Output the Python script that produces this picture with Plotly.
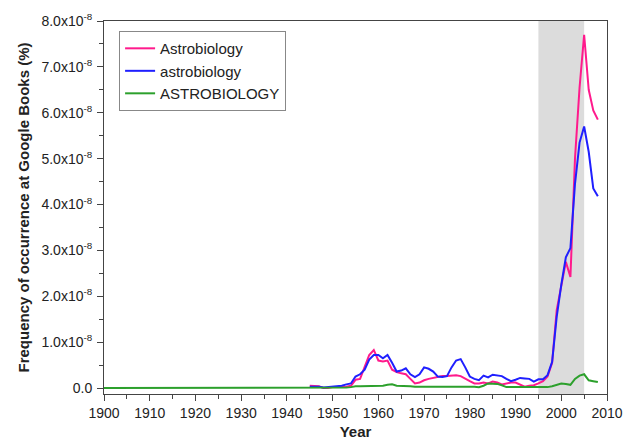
import plotly.graph_objects as go

# ---- data (values in units of 1e-8 %) ----
years_all = list(range(1900, 2009))
years_ab = list(range(1945, 2009))

astrobiology_cap = [
    0.05, 0.05, 0.04, 0.00, 0.00, 0.02, 0.02, 0.03, 0.03, 0.05,  # 1945-1954
    0.18, 0.20, 0.45, 0.72, 0.83, 0.60, 0.58, 0.60, 0.40, 0.35,  # 1955-1964
    0.32, 0.30, 0.20, 0.10, 0.12, 0.17, 0.20, 0.22, 0.25, 0.26,  # 1965-1974
    0.26, 0.27, 0.28, 0.26, 0.20, 0.15, 0.10, 0.10, 0.12, 0.10,  # 1975-1984
    0.14, 0.12, 0.08, 0.10, 0.12, 0.12, 0.08, 0.03, 0.05, 0.06,  # 1985-1994
    0.10, 0.15, 0.25, 0.55, 1.70, 2.20, 2.75, 2.42, 5.00, 6.55,  # 1995-2004
    7.70, 6.50, 6.05, 5.85                                       # 2005-2008
]

astrobiology_low = [
    0.03, 0.03, 0.03, 0.01, 0.02, 0.03, 0.03, 0.05, 0.08, 0.10,  # 1945-1954
    0.25, 0.30, 0.40, 0.62, 0.72, 0.72, 0.65, 0.72, 0.55, 0.36,  # 1955-1964
    0.38, 0.43, 0.30, 0.24, 0.30, 0.45, 0.42, 0.36, 0.25, 0.24,  # 1965-1974
    0.26, 0.45, 0.60, 0.63, 0.45, 0.25, 0.20, 0.17, 0.27, 0.23,  # 1975-1984
    0.29, 0.27, 0.26, 0.20, 0.15, 0.18, 0.22, 0.21, 0.20, 0.14,  # 1985-1994
    0.19, 0.19, 0.28, 0.57, 1.55, 2.25, 2.85, 3.05, 4.45, 5.35,  # 1995-2004
    5.70, 5.15, 4.35, 4.18                                       # 2005-2008
]

astrobiology_upper = [
    0.00, 0.00, 0.00, 0.00, 0.00, 0.00, 0.00, 0.00, 0.00, 0.00,  # 1900-1909
    0.00, 0.00, 0.00, 0.00, 0.00, 0.00, 0.00, 0.00, 0.00, 0.00,  # 1910-1919
    0.00, 0.00, 0.00, 0.00, 0.00, 0.00, 0.00, 0.00, 0.00, 0.00,  # 1920-1929
    0.00, 0.00, 0.00, 0.00, 0.00, 0.00, 0.00, 0.00, 0.00, 0.00,  # 1930-1939
    0.00, 0.00, 0.00, 0.00, 0.00, 0.00, 0.00, 0.00, 0.00, 0.00,  # 1940-1949
    0.00, 0.00, 0.00, 0.01, 0.02, 0.04, 0.04, 0.04, 0.04, 0.04,  # 1950-1959
    0.04, 0.05, 0.07, 0.08, 0.05, 0.05, 0.04, 0.04, 0.03, 0.03,  # 1960-1969
    0.04, 0.04, 0.03, 0.03, 0.03, 0.03, 0.03, 0.04, 0.04, 0.03,  # 1970-1979
    0.03, 0.03, 0.02, 0.05, 0.10, 0.10, 0.09, 0.06, 0.02, 0.02,  # 1980-1989
    0.02, 0.02, 0.02, 0.02, 0.02, 0.02, 0.02, 0.02, 0.04, 0.07,  # 1990-1999
    0.10, 0.09, 0.07, 0.20, 0.27, 0.30, 0.17, 0.15, 0.13          # 2000-2008
]

shade_start, shade_end = 1995, 2005

y_tick_vals = [0, 1, 2, 3, 4, 5, 6, 7, 8]
y_tick_text = ["0.0"] + [f"{v}.0x10<sup>-8</sup>" for v in y_tick_vals[1:]]
x_tick_vals = list(range(1900, 2011, 10))

# ---- figure ----
fig = go.Figure()
fig.add_trace(go.Scatter(x=years_ab, y=astrobiology_cap, mode="lines",
                         name="Astrobiology", line=dict(color="#ff1a8c", width=2)))
fig.add_trace(go.Scatter(x=years_ab, y=astrobiology_low, mode="lines",
                         name="astrobiology", line=dict(color="#1f1fff", width=2)))
fig.add_trace(go.Scatter(x=years_all, y=astrobiology_upper, mode="lines",
                         name="ASTROBIOLOGY", line=dict(color="#2ca02c", width=2)))

fig.add_vrect(x0=shade_start, x1=shade_end, fillcolor="#dcdcdc", opacity=1,
              layer="below", line_width=0)

axis_color = "#444444"
fig.update_layout(
    width=623, height=444,
    margin=dict(l=104, r=16, t=21, b=50),
    paper_bgcolor="white", plot_bgcolor="white",
    font=dict(family="Liberation Sans, Arial, sans-serif", size=14, color="#222222"),
    showlegend=True,
    legend=dict(x=0.03, y=0.973, xanchor="left", yanchor="top",
                bgcolor="white", bordercolor="#888888", borderwidth=1,
                font=dict(size=15, color="#222222"),
                tracegroupgap=0),
    xaxis=dict(
        range=[1900, 2010], tickvals=x_tick_vals, automargin=False,
        ticks="outside", ticklen=6, tickcolor=axis_color,
        tickfont=dict(size=14),
        showline=True, linecolor=axis_color, linewidth=1, mirror=True,
        showgrid=False, zeroline=False,
        minor=dict(tickmode="linear", tick0=1900, dtick=5, ticks="outside",
                   ticklen=4, tickcolor=axis_color, showgrid=False),
        title=dict(text="<b>Year</b>", font=dict(size=15), standoff=6),
    ),
    yaxis=dict(
        range=[-0.13, 8.0], tickvals=y_tick_vals, ticktext=y_tick_text,
        automargin=False,
        ticks="outside", ticklen=6, tickcolor=axis_color,
        tickfont=dict(size=14), ticklabelstandoff=2,
        showline=True, linecolor=axis_color, linewidth=1, mirror=True,
        showgrid=False, zeroline=False,
        minor=dict(tickmode="linear", tick0=0, dtick=0.5, ticks="outside",
                   ticklen=4, tickcolor=axis_color, showgrid=False),
        title=dict(text="<b>Frequency of occurrence at Google Books (%)</b>",
                   font=dict(size=15), standoff=8),
    ),
)

# remove the default page margin so the figure fills the window exactly
fig.write_html("out.html",
               config={"displayModeBar": False},
               post_script="document.body.style.margin='0px';")
